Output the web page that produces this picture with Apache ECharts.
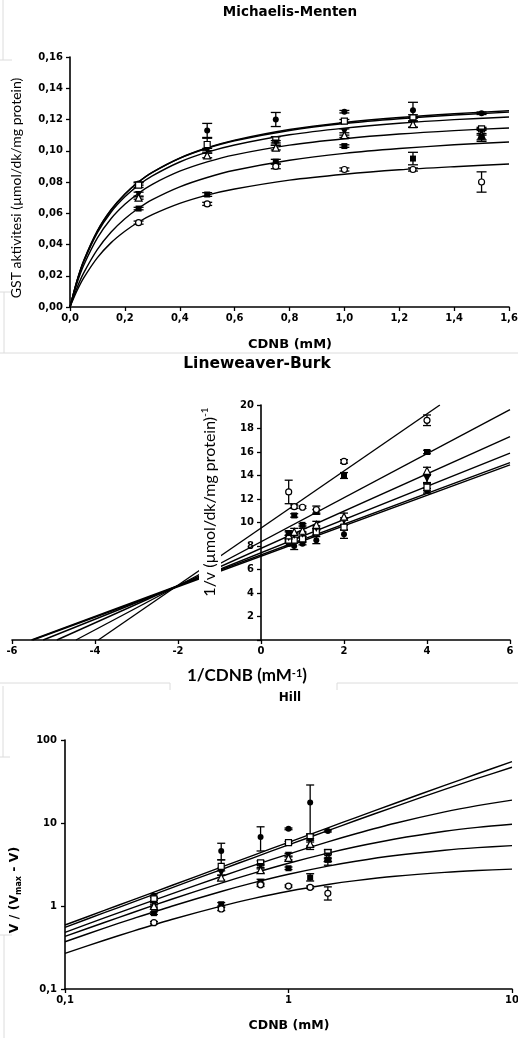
<!DOCTYPE html>
<html>
<head>
<meta charset="utf-8">
<title>GST kinetik</title>
<script src="https://cdn.jsdelivr.net/npm/echarts@6/dist/echarts.min.js"></script>
<style>
html, body { margin: 0; padding: 0; background: #fff; }
#main { width: 518px; height: 1038px; }
</style>
</head>
<body>
<div id="main"></div>
<script>
// --- Michaelis-Menten: measured points (6 groups) ---
var mmS = [0.25, 0.5, 0.75, 1.0, 1.25, 1.5];
var mmV = [
    [0.079, 0.113, 0.120, 0.125, 0.126, 0.124],
    [0.078, 0.104, 0.107, 0.119, 0.121, 0.114],
    [0.072, 0.100, 0.105, 0.112, 0.118, 0.112],
    [0.070, 0.097, 0.102, 0.110, 0.117, 0.110],
    [0.063, 0.072, 0.093, 0.103, 0.095, 0.109],
    [0.054, 0.066, 0.090, 0.088, 0.088, 0.080]
];
var mmErr = [
    [0.001, 0.0045, 0.0045, 0.0008, 0.005, 0.0008],
    [0.0015, 0.004, 0.002, 0.001, 0.002, 0.001],
    [0.0015, 0.0015, 0.0015, 0.002, 0.003, 0.002],
    [0.001, 0.0015, 0.0015, 0.0015, 0.002, 0.004],
    [0.0008, 0.0012, 0.0015, 0.0008, 0.004, 0.002],
    [0.001, 0.001, 0.0015, 0.001, 0.001, 0.0065]
];
// fitted curves
var mmCurveS = [0, 0.025, 0.05, 0.1, 0.15, 0.2, 0.25, 0.3, 0.4, 0.5, 0.6, 0.8, 1.0, 1.2, 1.4, 1.6];
var mmCurves = [
    [0, 0.0164, 0.0294, 0.0486, 0.0621, 0.0722, 0.0800, 0.0861, 0.0953, 0.1019, 0.1068, 0.1136, 0.1181, 0.1213, 0.1237, 0.1256],
    [0, 0.0166, 0.0297, 0.0489, 0.0624, 0.0724, 0.0801, 0.0862, 0.0952, 0.1016, 0.1064, 0.1130, 0.1174, 0.1205, 0.1229, 0.1247],
    [0, 0.0162, 0.0289, 0.0476, 0.0608, 0.0705, 0.0780, 0.0839, 0.0928, 0.0991, 0.1037, 0.1102, 0.1145, 0.1176, 0.1199, 0.1216],
    [0, 0.0149, 0.0267, 0.0442, 0.0566, 0.0657, 0.0728, 0.0785, 0.0869, 0.0929, 0.0974, 0.1036, 0.1077, 0.1107, 0.1129, 0.1146],
    [0, 0.0120, 0.0218, 0.0369, 0.0480, 0.0565, 0.0632, 0.0687, 0.0769, 0.0829, 0.0875, 0.0939, 0.0983, 0.1014, 0.1038, 0.1056],
    [0, 0.0102, 0.0186, 0.0316, 0.0412, 0.0485, 0.0544, 0.0591, 0.0663, 0.0716, 0.0755, 0.0812, 0.0850, 0.0878, 0.0898, 0.0915]
];

// --- Lineweaver-Burk ---
var lbX = [4, 2, 1.333, 1, 0.8, 0.667];
var lbY = [
    [12.7, 9.0, 8.5, 8.2, 8.0, 8.2],
    [13.0, 9.6, 9.2, 8.6, 8.5, 8.5],
    [13.7, 10.1, 9.5, 9.0, 8.9, 8.7],
    [14.4, 10.5, 9.8, 9.3, 9.2, 8.9],
    [16.0, 14.0, 10.9, 9.8, 10.6, 9.1],
    [18.7, 15.2, 11.1, 11.3, 11.35, 12.6]
];
var lbErr = [
    [0.2, 0.35, 0.3, 0.1, 0.3, 0.2],
    [0.3, 0.2, 0.2, 0.2, 0.2, 0.2],
    [0.3, 0.3, 0.2, 0.2, 0.2, 0.2],
    [0.3, 0.3, 0.3, 0.2, 0.3, 0.3],
    [0.15, 0.25, 0.2, 0.1, 0.15, 0.2],
    [0.45, 0.15, 0.3, 0.1, 0.15, 1.0]
];
var lbLineStartX = [-5.53, -5.5, -5.25, -4.92, -4.46, -3.92];
var lbLineEndX = [6, 6, 6, 6, 6, 4.31];
var lbLineEndY = [15.1, 14.9, 15.9, 17.3, 19.6, 20];

// --- Hill ---
var hillS = [0.25, 0.5, 0.75, 1.0, 1.25, 1.5];
var hillY = [
    [1.33, 4.6, 6.8, 8.5, 17.6, 8.0],
    [1.22, 3.0, 3.3, 5.8, 6.8, 4.4],
    [1.05, 2.5, 3.0, 4.1, 6.0, 4.0],
    [1.0, 2.2, 2.7, 3.8, 5.6, 3.8],
    [0.82, 1.05, 1.95, 2.85, 2.2, 3.6],
    [0.63, 0.92, 1.8, 1.74, 1.68, 1.42]
];
var hillLo = [
    [1.26, 3.6, 4.6, 8.3, 6.5, 7.8],
    [1.17, 2.85, 3.1, 5.6, 6.2, 4.2],
    [1.0, 2.35, 2.8, 3.9, 4.8, 3.7],
    [0.95, 2.05, 2.5, 3.6, 5.3, 3.1],
    [0.79, 1.0, 1.8, 2.75, 2.0, 3.4],
    [0.61, 0.88, 1.72, 1.69, 1.62, 1.18]
];
var hillHi = [
    [1.40, 5.7, 9.0, 8.7, 28.7, 8.2],
    [1.28, 3.6, 3.5, 6.0, 7.4, 4.6],
    [1.1, 2.65, 3.2, 4.3, 7.3, 4.3],
    [1.05, 2.35, 2.9, 4.0, 5.9, 4.8],
    [0.85, 1.1, 2.1, 2.95, 2.45, 3.8],
    [0.65, 0.96, 1.88, 1.79, 1.74, 1.70]
];
var hillCurveX = [0.1, 0.15, 0.2, 0.3, 0.5, 0.7, 1, 1.5, 2, 3, 5, 7, 10];
var hillCurves = [
    [0.590, 0.884, 1.178, 1.766, 2.939, 4.108, 5.855, 8.749, 11.62, 17.30, 28.41, 39.19, 54.78],
    [0.554, 0.830, 1.106, 1.656, 2.750, 3.836, 5.450, 8.103, 10.71, 15.78, 25.42, 34.44, 46.91],
    [0.482, 0.718, 0.950, 1.403, 2.269, 3.085, 4.224, 5.927, 7.424, 9.932, 13.61, 16.18, 18.85],
    [0.430, 0.633, 0.830, 1.205, 1.886, 2.488, 3.272, 4.334, 5.174, 6.418, 7.946, 8.849, 9.674],
    [0.371, 0.541, 0.700, 0.994, 1.496, 1.910, 2.409, 3.023, 3.465, 4.058, 4.702, 5.046, 5.338],
    [0.269, 0.387, 0.495, 0.687, 0.997, 1.235, 1.505, 1.814, 2.021, 2.281, 2.543, 2.675, 2.783]
];

// marker look of each group
var markerSymbol = ['circle', 'rect', 'triangle', 'triangle', 'rect', 'circle'];
var markerFilled = [true, false, true, false, true, false];
var markerRotate = [0, 0, 180, 0, 0, 0];

var myChart;
var SANS = '"DejaVu Sans", Arial, sans-serif';
var CALIBRI = 'Lato, "Open Sans", sans-serif';

chartInit();

function chartInit() {
    myChart = echarts.init(document.getElementById('main'));
    var series = [];

    for (var i = 0; i < 6; i++) {
        // Michaelis-Menten
        series.push(curve(0, mmCurveS.map(function (s, k) { return [s, mmCurves[i][k]]; }), 0.3));
        series.push(errBars(0, mmS.map(function (s, k) { return [s, mmV[i][k] - mmErr[i][k], mmV[i][k] + mmErr[i][k]]; }), 5));
        series.push(markers(0, i, mmS.map(function (s, k) { return [s, mmV[i][k]]; })));

        // Lineweaver-Burk
        series.push(curve(1, [[lbLineStartX[i], 0], [lbLineEndX[i], lbLineEndY[i]]], 0));
        series.push(errBars(1, lbX.map(function (x, k) { return [x, lbY[i][k] - lbErr[i][k], lbY[i][k] + lbErr[i][k]]; }), 4));
        series.push(markers(1, i, lbX.map(function (x, k) { return [x, lbY[i][k]]; })));

        // Hill
        series.push(curve(2, hillCurveX.map(function (x, k) { return [x, hillCurves[i][k]]; }), 0.3));
        series.push(errBars(2, hillS.map(function (x, k) { return [x, hillLo[i][k], hillHi[i][k]]; }), 4));
        series.push(markers(2, i, hillS.map(function (x, k) { return [x, hillY[i][k]]; })));
    }

    // the y axis of the Lineweaver-Burk plot sits at x = 0 (middle of the grid)
    var lbYAxis = valueAxis(1, 'y', 0, 20, 2, function (v) { return v === 0 ? '' : String(v); });
    lbYAxis.offset = -249;
    lbYAxis.axisLine.onZero = false;

    var option = {
        animation: false,
        backgroundColor: '#fff',
        grid: [
            {left: 70, top: 57, width: 439, height: 250, outerBoundsMode: 'none', containLabel: false},
            {left: 12, top: 405, width: 498, height: 235, outerBoundsMode: 'none', containLabel: false},
            {left: 65, top: 740, width: 447, height: 249, outerBoundsMode: 'none', containLabel: false}
        ],
        xAxis: [
            valueAxis(0, 'x', 0, 1.6, 0.2, function (v) { return v.toFixed(1).replace('.', ','); }),
            valueAxis(1, 'x', -6, 6, 2, function (v) { return String(v); }),
            logAxis(2, 'x', 0.1, 10)
        ],
        yAxis: [
            valueAxis(0, 'y', 0, 0.16, 0.02, function (v) { return v.toFixed(2).replace('.', ','); }),
            lbYAxis,
            logAxis(2, 'y', 0.1, 100)
        ],
        graphic: labels(),
        series: series
    };
    myChart.setOption(option);
}

function curve(gi, data, smooth) {
    return {
        type: 'line', xAxisIndex: gi, yAxisIndex: gi, data: data,
        smooth: smooth, showSymbol: false, symbol: 'none', silent: true, z: 2,
        lineStyle: {color: '#000', width: 1.4}
    };
}

function errBars(gi, data, cap) {
    return {
        type: 'custom', xAxisIndex: gi, yAxisIndex: gi, data: data, z: 3, silent: true,
        encode: {x: 0, y: [1, 2]},
        renderItem: function (params, api) {
            var lo = api.coord([api.value(0), api.value(1)]);
            var hi = api.coord([api.value(0), api.value(2)]);
            var st = {stroke: '#000', lineWidth: 1.3};
            return {
                type: 'group',
                children: [
                    {type: 'line', shape: {x1: lo[0], y1: lo[1], x2: hi[0], y2: hi[1]}, style: st},
                    {type: 'line', shape: {x1: hi[0] - cap, y1: hi[1], x2: hi[0] + cap, y2: hi[1]}, style: st},
                    {type: 'line', shape: {x1: lo[0] - cap, y1: lo[1], x2: lo[0] + cap, y2: lo[1]}, style: st}
                ]
            };
        }
    };
}

function markers(gi, i, data) {
    return {
        type: 'scatter', xAxisIndex: gi, yAxisIndex: gi, data: data, z: 4, silent: true,
        symbol: markerSymbol[i], symbolRotate: markerRotate[i],
        symbolSize: markerSymbol[i] === 'triangle' ? 7 : 6,
        itemStyle: {
            color: markerFilled[i] ? '#000' : '#fff',
            borderColor: '#000',
            borderWidth: markerFilled[i] ? 0 : 1.2,
            opacity: 1
        }
    };
}

function valueAxis(gi, dir, min, max, interval, fmt) {
    return {
        type: 'value', gridIndex: gi, min: min, max: max, interval: interval,
        position: dir === 'x' ? 'bottom' : 'left',
        axisLine: {show: true, onZero: true, lineStyle: {color: '#000', width: 1.6}},
        axisTick: {show: true, inside: false, length: 4, lineStyle: {color: '#000', width: 1.3}},
        splitLine: {show: false},
        axisLabel: {
            show: true, formatter: fmt, margin: dir === 'x' ? 6 : 7,
            fontSize: 10, fontWeight: 'bold', fontFamily: SANS, color: '#000',
            showMinLabel: true, showMaxLabel: true, hideOverlap: false
        }
    };
}

function logAxis(gi, dir, min, max) {
    return {
        type: 'log', logBase: 10, gridIndex: gi, min: min, max: max,
        position: dir === 'x' ? 'bottom' : 'left',
        axisLine: {show: true, onZero: false, lineStyle: {color: '#000', width: 1.6}},
        axisTick: {show: true, inside: false, length: 4, lineStyle: {color: '#000', width: 1.3}},
        minorTick: {show: false},
        splitLine: {show: false},
        axisLabel: {
            show: true, margin: dir === 'x' ? 6 : 8,
            fontSize: 10, fontWeight: 'bold', fontFamily: SANS, color: '#000',
            showMinLabel: true, showMaxLabel: true, hideOverlap: false,
            formatter: function (v) {
                return v < 1 ? v.toFixed(1).replace('.', ',') : String(Math.round(v));
            }
        }
    };
}

function text(x, y, str, font, extra) {
    var el = {
        type: 'text', x: x, y: y, z: 100, silent: true,
        style: {
            text: str, fill: '#000', align: 'center', verticalAlign: 'middle',
            fontSize: font.size, fontWeight: font.weight || 'normal', fontFamily: font.family
        }
    };
    if (extra) {
        for (var k in extra) {
            if (k === 'style') {
                for (var s in extra.style) el.style[s] = extra.style[s];
            } else {
                el[k] = extra[k];
            }
        }
    }
    return el;
}

function labels() {
    var grey = {stroke: '#dcdcdc', lineWidth: 1};
    var frame = [
        [3, 0, 3, 60], [0, 60, 12, 60],
        [0, 292, 12, 292], [4, 292, 4, 353],
        [0, 353, 518, 353],
        [0, 683, 170, 683], [337, 683, 518, 683], [170, 683, 170, 690], [337, 683, 337, 690],
        [3, 686, 3, 757], [0, 757, 10, 757],
        [0, 935, 12, 935], [4, 935, 4, 1038]
    ].map(function (l) {
        return {type: 'line', z: 1, silent: true, shape: {x1: l[0], y1: l[1], x2: l[2], y2: l[3]}, style: grey};
    });

    var items = [
        // titles
        text(290, 12, 'Michaelis-Menten', {size: 13.5, weight: 'bold', family: SANS}),
        text(257, 364, 'Lineweaver-Burk', {size: 15.5, weight: 'bold', family: SANS}),
        text(290, 698, 'Hill', {size: 12, weight: 'bold', family: SANS}),

        // Michaelis-Menten axis titles
        text(290, 345, 'CDNB (mM)', {size: 13, weight: 'bold', family: SANS}),
        text(16, 188, 'GST aktivitesi (\u00b5mol/dk/mg protein)', {size: 14, family: CALIBRI}, {rotation: Math.PI / 2}),

        // Lineweaver-Burk axis titles
        text(247, 676, '{a|1/CDNB (mM}{s|-1}{a|)}', {size: 17, weight: 'bold', family: CALIBRI}, {
            style: {rich: {
                a: {fontSize: 17, fontWeight: 'bold', fontFamily: CALIBRI, fill: '#000'},
                s: {fontSize: 11, fontWeight: 'bold', fontFamily: CALIBRI, fill: '#000', verticalAlign: 'top', lineHeight: 10}
            }}
        }),
        text(210, 502, '{a|1/v (\u00b5mol/dk/mg protein)}{s|-1}', {size: 16, family: CALIBRI}, {
            rotation: Math.PI / 2,
            style: {
                backgroundColor: '#fff', padding: [1, 2],
                rich: {
                    a: {fontSize: 16, fontFamily: CALIBRI, fill: '#000', lineHeight: 20},
                    s: {fontSize: 10, fontFamily: CALIBRI, fill: '#000', verticalAlign: 'top', lineHeight: 10}
                }
            }
        }),

        // Hill axis titles
        text(289, 1026, 'CDNB (mM)', {size: 12.5, weight: 'bold', family: SANS}),
        text(15, 890, '{a|V / (V}{b|max}{a| - V)}', {size: 12.5, weight: 'bold', family: SANS}, {
            rotation: Math.PI / 2,
            style: {rich: {
                a: {fontSize: 12.5, fontWeight: 'bold', fontFamily: SANS, fill: '#000', lineHeight: 16},
                b: {fontSize: 8, fontWeight: 'bold', fontFamily: SANS, fill: '#000', verticalAlign: 'bottom', lineHeight: 9}
            }}
        })
    ];
    return frame.concat(items);
}
</script>
</body>
</html>
